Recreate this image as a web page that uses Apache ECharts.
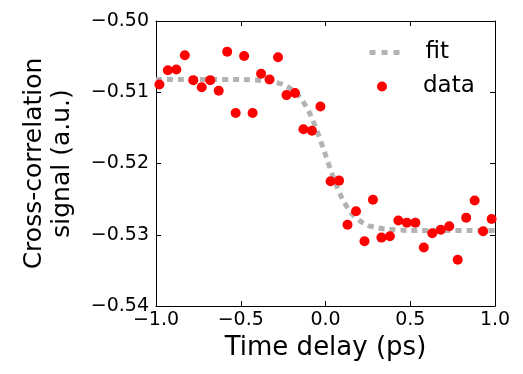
<!DOCTYPE html>
<html>
<head>
<meta charset="utf-8">
<script src="https://cdn.jsdelivr.net/npm/echarts@6/dist/echarts.min.js"></script>
<style>
  html, body { margin: 0; padding: 0; background: #fff; }
  #chart { width: 523px; height: 374px; }
</style>
</head>
<body>
<div id="chart"></div>
<script>
// measured points (time delay in ps, signal in a.u.)
const dataX = [-0.98, -0.93, -0.88, -0.83, -0.78, -0.73, -0.68, -0.63, -0.58, -0.53,
               -0.48, -0.43, -0.38, -0.33, -0.28, -0.23, -0.18, -0.13, -0.08, -0.03,
                0.03, 0.08, 0.13, 0.18, 0.23, 0.28, 0.33, 0.38, 0.43, 0.48,
                0.53, 0.58, 0.63, 0.68, 0.73, 0.78, 0.83, 0.88, 0.93, 0.98];
const dataY = [-0.5089, -0.5069, -0.5068, -0.5048, -0.5083, -0.5093, -0.5083, -0.5098, -0.5043, -0.5129,
               -0.5049, -0.5129, -0.5074, -0.5082, -0.5051, -0.5104, -0.5101, -0.5152, -0.5154, -0.5120,
               -0.5225, -0.5224, -0.5286, -0.5267, -0.5309, -0.5251, -0.5304, -0.5302, -0.5280, -0.5283,
               -0.5283, -0.5318, -0.5298, -0.5293, -0.5288, -0.5335, -0.5276, -0.5252, -0.5295, -0.5278];

// fit curve
const fitX = [-1.0, -0.5, -0.35, -0.3, -0.25, -0.2, -0.15, -0.1, -0.05, 0.0,
               0.05, 0.1, 0.15, 0.2, 0.25, 0.3, 0.35, 0.5, 1.0];
const fitY = [-0.5082, -0.5082, -0.5084, -0.5086, -0.5089, -0.5096, -0.5107, -0.5126, -0.5154, -0.5188,
              -0.5222, -0.5250, -0.5269, -0.5280, -0.5287, -0.5290, -0.5292, -0.5294, -0.5294];

const xTicks = [-1.0, -0.5, 0.0, 0.5, 1.0];
const yTicks = [-0.54, -0.53, -0.52, -0.51, -0.50];

const font = "DejaVu Sans";
const fitColor = "#b3b3b3";
const minus = s => s.replace("-", "\u2212");

const frameAxis = {
  axisLine: { show: true, onZero: false, lineStyle: { color: "#000", width: 1 } },
  axisTick: { show: true, inside: true, length: 5, lineStyle: { color: "#000", width: 1 } },
  splitLine: { show: false }
};

const legendText = { fontFamily: font, fontSize: 23, color: "#000" };

const option = {
  animation: false,
  grid: { left: 156, right: 28, top: 21, bottom: 68 },
  legend: [
    {
      left: 367, top: 41, padding: 0,
      itemWidth: 31, itemHeight: 10,
      data: [{ name: "fit", itemStyle: { opacity: 0 } }],
      lineStyle: { color: fitColor, width: 5, type: [6, 6], cap: "butt" },
      textStyle: Object.assign({ padding: [0, 0, 0, 20] }, legendText)
    },
    {
      left: 377, top: 75, padding: 0,
      itemWidth: 10, itemHeight: 10,
      data: [{ name: "data", icon: "circle" }],
      textStyle: Object.assign({ padding: [0, 0, 0, 31] }, legendText)
    }
  ],
  xAxis: [
    Object.assign({
      type: "value", min: xTicks[0], max: xTicks[xTicks.length - 1], interval: 0.5,
      position: "bottom",
      name: "Time delay (ps)", nameLocation: "middle", nameGap: 28,
      nameTextStyle: { fontFamily: font, fontSize: 26, color: "#000" },
      axisLabel: { fontFamily: font, fontSize: 19, color: "#000", margin: 5,
                   formatter: v => minus(v.toFixed(1)) }
    }, frameAxis),
    Object.assign({
      type: "value", min: xTicks[0], max: xTicks[xTicks.length - 1], interval: 0.5,
      position: "top", axisLabel: { show: false }
    }, frameAxis)
  ],
  yAxis: [
    Object.assign({
      type: "value", min: yTicks[0], max: yTicks[yTicks.length - 1], interval: 0.01,
      position: "left",
      name: "Cross-correlation\nsignal (a.u.)", nameLocation: "middle", nameGap: 80,
      nameRotate: 90,
      nameTextStyle: { fontFamily: font, fontSize: 25, color: "#000", lineHeight: 28 },
      axisLabel: { fontFamily: font, fontSize: 19, color: "#000", margin: 7,
                   formatter: v => minus(v.toFixed(2)) }
    }, frameAxis),
    Object.assign({
      type: "value", min: yTicks[0], max: yTicks[yTicks.length - 1], interval: 0.01,
      position: "right", axisLabel: { show: false }
    }, frameAxis)
  ],
  series: [
    {
      name: "fit",
      type: "line",
      data: fitX.map((x, i) => [x, fitY[i]]),
      smooth: 0.2,
      showSymbol: false,
      symbol: "none",
      lineStyle: { color: fitColor, width: 5, type: [6, 5], cap: "butt" },
      itemStyle: { color: fitColor },
      z: 2
    },
    {
      name: "data",
      type: "scatter",
      data: dataX.map((x, i) => [x, dataY[i]]),
      symbol: "circle",
      symbolSize: 10,
      itemStyle: { color: "#ff0000", opacity: 1 },
      z: 3
    }
  ]
};

const chart = echarts.init(document.getElementById("chart"));
chart.setOption(option);
</script>
</body>
</html>
